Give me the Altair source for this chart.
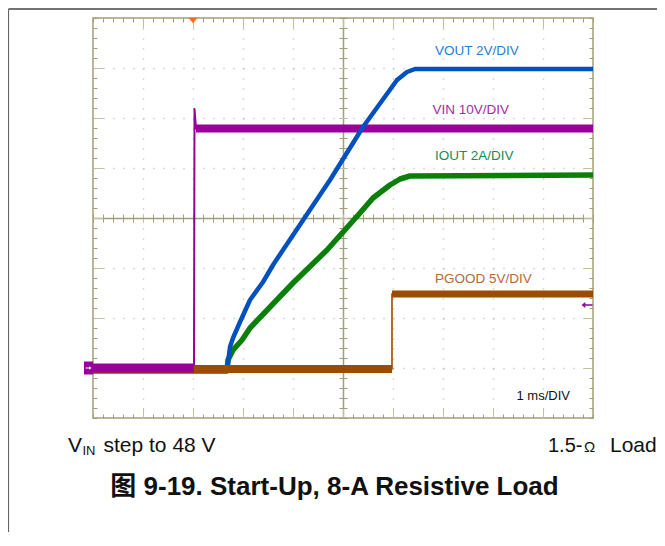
import altair as alt
import pandas as pd
import numpy as np

# ---------------- oscilloscope data (read from the capture) ----------------
# time axis: 1 ms/div, trigger at t = 0 ms
TIME_DOMAIN = [-2.0, 8.0]
DIV_DOMAIN = [-4.0, 4.0]

# channel scale (units / div) and ground marker position (div)
CH_SCALE = {"VIN": 10.0, "VOUT": 2.0, "IOUT": 2.0, "PGOOD": 5.0}
CH_GROUND = {"VIN": -3.0, "VOUT": -3.0, "IOUT": -3.0, "PGOOD": -3.0}

# VIN (V), 10 V/div
VIN_T = [-2.0, 0.02, 0.03, 0.06, 8.0]
VIN_V = [0.0, 0.0, 51.8, 47.9, 47.9]

# VOUT (V), 2 V/div
VOUT_T = [-2.0, 0.68, 0.74, 0.80, 0.94, 1.14, 1.40, 1.60, 1.80, 2.74, 3.40, 4.08, 4.28, 4.44, 8.0]
VOUT_V = [-0.1, -0.1, 0.84, 1.2, 1.84, 2.72, 3.44, 4.12, 4.72, 7.52, 9.64, 11.52, 11.84, 11.96, 11.96]

# IOUT (A), 2 A/div
IOUT_T = [-2.0, 0.68, 0.70, 0.80, 0.98, 1.14, 2.0, 2.68, 3.34, 3.60, 3.94, 4.14, 4.34, 8.0]
IOUT_A = [-0.12, -0.12, 0.32, 0.72, 1.12, 1.6, 3.4, 4.72, 6.2, 6.8, 7.32, 7.56, 7.68, 7.72]

# PGOOD (V), 5 V/div
PGOOD_T = [-2.0, 3.98, 3.98, 8.0]
PGOOD_V = [-0.1, -0.1, 7.4, 7.4]

TRIGGER_T = 0.0          # ms
VIN_TRIGGER_LEVEL = 12.6  # V

LABELS = ["VOUT 2V/DIV", "VIN 10V/DIV", "IOUT 2A/DIV", "PGOOD 5V/DIV", "1 ms/DIV"]
TITLE = "图 9-19. Start-Up, 8-A Resistive Load"

# ---------------- helpers ----------------
XS = alt.Scale(domain=TIME_DOMAIN, nice=False, zero=False)
YS = alt.Scale(domain=DIV_DOMAIN, nice=False, zero=False)


def to_df(name, t, v):
    d = pd.DataFrame({"t": t, "val": v})
    d["div"] = CH_GROUND[name] + d["val"] / CH_SCALE[name]
    d["i"] = np.arange(len(d))
    return d


vin = to_df("VIN", VIN_T, VIN_V)
vout = to_df("VOUT", VOUT_T, VOUT_V)
iout = to_df("IOUT", IOUT_T, IOUT_A)
pgood = to_df("PGOOD", PGOOD_T, PGOOD_V)


def trace(d, color, width):
    return alt.Chart(d).mark_line(
        color=color, strokeWidth=width, strokeCap="butt", strokeJoin="round"
    ).encode(
        x=alt.X("t:Q", scale=XS, axis=None),
        y=alt.Y("div:Q", scale=YS, axis=None),
        order="i:Q",
    )


TAN = "#a29f78"
DOT = "#b9b7a6"
anchor = pd.DataFrame({"t": [0.0], "div": [0.0]})

x_minor = [round(v, 2) for v in np.arange(-2.0, 8.001, 0.2)]
y_minor = [round(v, 2) for v in np.arange(-4.0, 4.001, 0.2)]
x_major = [float(v) for v in range(-1, 8)]
y_major = [float(v) for v in range(-3, 4)]


def grid_layer(xv, xdash, yv, ydash, color, width):
    xa = dict(values=xv, grid=True, gridColor=color, gridWidth=width,
              labels=False, ticks=False, domain=False, title=None)
    ya = dict(values=yv, grid=True, gridColor=color, gridWidth=width,
              labels=False, ticks=False, domain=False, title=None)
    if xdash:
        xa["gridDash"] = xdash
    if ydash:
        ya["gridDash"] = ydash
    return alt.Chart(anchor).mark_point(opacity=0).encode(
        x=alt.X("t:Q", scale=XS, axis=alt.Axis(**xa)),
        y=alt.Y("div:Q", scale=YS, axis=alt.Axis(**ya)),
    )


g_dots = grid_layer([v for v in x_major if v != 3.0], [1, 9],
                    [v for v in y_major if v != 0.0], [1, 9], DOT, 1.5)
g_center = grid_layer([3.0], None, [0.0], None, TAN, 1.5)
g_minor = grid_layer(x_minor, [4, 192, 8, 192, 4], y_minor, [4, 242, 8, 242, 4], TAN, 1)
g_major = grid_layer(x_major, [10, 186, 8, 186, 10], y_major, [10, 236, 8, 236, 10], "#c3c0a0", 1)

# ---------------- traces (layered like the scope display) ----------------
PURPLE = "#990099"
BLUE = "#0050be"
GREEN = "#0a800a"
BROWN = "#9c4c00"

vin_thin = trace(vin, PURPLE, 2)
vin_pre = trace(vin.iloc[0:2], PURPLE, 9)
vin_post = trace(vin.iloc[3:5], PURPLE, 8)
iout_line = trace(iout, GREEN, 5.5)
vout_line = trace(vout, BLUE, 4.5)
pg_thin = trace(pgood, "#b0702a", 2)
pg_low = trace(pgood.iloc[0:2], BROWN, 8)
pg_high = trace(pgood.iloc[2:4], BROWN, 7)

# ---------------- markers ----------------
trig = alt.Chart(pd.DataFrame({"t": [TRIGGER_T], "div": [DIV_DOMAIN[1]]})).mark_point(
    shape="M-1,-0.6L1,-0.6L0,0.6Z", size=81, filled=True, color="#ff6a1a", opacity=1, yOffset=2.5
).encode(x=alt.X("t:Q", scale=XS, axis=None), y=alt.Y("div:Q", scale=YS, axis=None))

gnd_df = pd.DataFrame({"t": [TIME_DOMAIN[0]], "div": [CH_GROUND["VIN"]]})
gnd_box = alt.Chart(gnd_df).mark_point(
    shape="M-0.7,-1L0.7,-1L0.7,1L-0.7,1Z", size=169, filled=True, color=PURPLE, opacity=1, xOffset=-4.5
).encode(x=alt.X("t:Q", scale=XS, axis=None), y=alt.Y("div:Q", scale=YS, axis=None))
gnd_arrow = alt.Chart(gnd_df).mark_point(
    shape="M-1,-0.15L0.2,-0.15L0.2,-0.6L1,0L0.2,0.6L0.2,0.15L-1,0.15Z", size=36, filled=True,
    color="white", opacity=1, xOffset=-4.5
).encode(x=alt.X("t:Q", scale=XS, axis=None), y=alt.Y("div:Q", scale=YS, axis=None))

lvl_df = pd.DataFrame({"t": [TIME_DOMAIN[1]], "div": [CH_GROUND["VIN"] + VIN_TRIGGER_LEVEL / CH_SCALE["VIN"]]})
lvl_arrow = alt.Chart(lvl_df).mark_point(
    shape="M-1,0L-0.3,-0.55L-0.3,-0.15L1,-0.15L1,0.15L-0.3,0.15L-0.3,0.55Z", size=121, filled=True,
    color=PURPLE, opacity=1, xOffset=-6
).encode(x=alt.X("t:Q", scale=XS, axis=None), y=alt.Y("div:Q", scale=YS, axis=None))

# ---------------- texts ----------------
FONT = "Liberation Sans, Arial, Noto Sans CJK SC"


def text_layer(txt, t, d, size, color, weight="normal", align="left"):
    df = pd.DataFrame({"t": [t], "div": [d], "txt": [txt]})
    return alt.Chart(df).mark_text(
        font=FONT, fontSize=size, color=color, fontWeight=weight, align=align, baseline="alphabetic"
    ).encode(x=alt.X("t:Q", scale=XS, axis=None), y=alt.Y("div:Q", scale=YS, axis=None), text="txt:N")


texts = [
    text_layer(LABELS[0], 4.84, 3.26, 13.5, "#1f80d6"),
    text_layer(LABELS[1], 4.79, 2.09, 13.5, "#a32ca6"),
    text_layer(LABELS[2], 4.84, 1.16, 13.5, "#178c55"),
    text_layer(LABELS[3], 4.84, -1.29, 13.5, "#b8692f"),
    text_layer(LABELS[4], 6.47, -3.63, 13, "#111111"),
    text_layer("V", -2.5, -4.68, 21, "#111111"),
    text_layer("IN", -2.21, -4.73, 13, "#111111"),
    text_layer("step to 48 V", -1.79, -4.68, 21, "#111111"),
    text_layer("1.5-", 7.1, -4.68, 20, "#111111"),
    text_layer("Ω", 7.82, -4.68, 15, "#111111"),
    text_layer("Load", 8.34, -4.68, 21, "#111111"),
    text_layer(TITLE, 2.83, -5.54, 26, "#111111", weight="bold", align="center"),
]

# page border lines (decoration)
one = pd.DataFrame({"a": [0]})
border_top = alt.Chart(one).mark_rule(color="#444444", strokeWidth=1.5).encode(
    x=alt.value(-84.5), x2=alt.value(564), y=alt.value(-9))
border_left = alt.Chart(one).mark_rule(color="#666666", strokeWidth=1.2).encode(
    x=alt.value(-84.5), y=alt.value(-9), y2=alt.value(514))

chart = alt.layer(
    g_dots, g_center, g_minor, g_major,
    vin_thin, vin_post,
    iout_line, vout_line,
    pg_thin, pg_low, pg_high,
    vin_pre,
    trig, gnd_box, gnd_arrow, lvl_arrow,
    *texts,
    border_top, border_left,
).resolve_axis(x="independent", y="independent").properties(
    width=500, height=400,
    autosize=alt.AutoSizeParams(type="none"),
    padding={"left": 85, "top": 10, "right": 64, "bottom": 114},
    background="white",
).configure_view(stroke=TAN, strokeWidth=1.5)

chart.save("out.html", embed_options={"renderer": "svg", "actions": False})
